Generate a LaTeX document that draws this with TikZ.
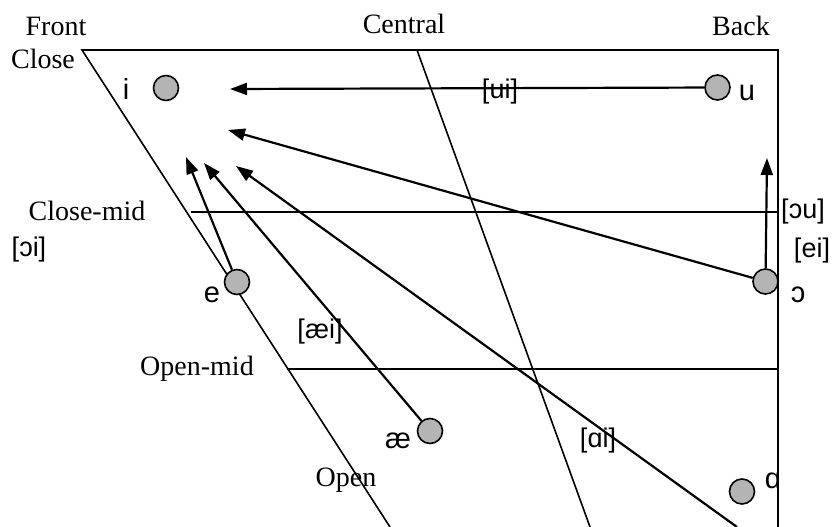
\documentclass[tikz,border=0pt]{standalone}
\usepackage{fontspec}
\setmainfont{Liberation Serif}
\newfontfamily\ipafont{Liberation Sans}
\usetikzlibrary{arrows.meta}
\definecolor{vgray}{RGB}{180,180,180}
\begin{document}
\begin{tikzpicture}[x=1pt,y=-1pt,
  frame/.style={line width=1.6pt},
  arr/.style={line width=2.2pt,-{Triangle[length=17pt,width=12pt]}},
  vc/.style={circle,draw,fill=vgray,line width=1.6pt,minimum size=25pt,inner sep=0pt},
  lbl/.style={font=\fontsize{28}{30}\selectfont,inner sep=0pt},
  sym/.style={font=\ipafont\fontsize{29}{31}\selectfont,inner sep=0pt},
  brk/.style={font=\ipafont\fontsize{27}{29}\selectfont,inner sep=0pt}]
\useasboundingbox (0,0) rectangle (833,527);
% frame
\coordinate (tl) at (82,50);
\coordinate (tr) at (778,50);
\coordinate (br) at (778,527);
\coordinate (bl) at (390,527);
\coordinate (ct) at (417,50);
\coordinate (cb) at (590,527);
\coordinate (cm1) at (191,212);
\coordinate (cm2) at (778,212);
\coordinate (om1) at (287,369);
\coordinate (om2) at (778,369);
\draw[frame] (bl) -- (tl) -- (tr) -- (br);
\draw[frame] (ct) -- (cb);
\draw[frame] (cm1) -- (cm2);
\draw[frame] (om1) -- (om2);
% labels
\node[lbl] (front) at (56,26) {Front};
\node[lbl] (close) at (43,59) {Close};
\node[lbl] (central) at (404,24) {Central};
\node[lbl] (back) at (741,26) {Back};
\node[lbl] (closemid) at (87,211) {Close-mid};
\node[lbl] (openmid) at (197,369) {Open-mid};
\node[lbl] (open) at (346,480) {Open};
% vowels
\node[vc] (vi) at (166,88) {};
\node[vc] (vu) at (717.5,87.5) {};
\node[vc] (ve) at (237,282) {};
\node[vc] (vo) at (765.5,281.5) {};
\node[vc] (vae) at (430,431) {};
\node[vc] (va) at (742,491.5) {};
\node[sym] (li) at (126,89) {i};
\node[sym] (lu) at (747,92.5) {u};
\node[sym] (le) at (212,295) {e};
\node[sym] (lo) at (798,295) {ɔ};
\node[sym] (lae) at (398,441) {æ};
\node[sym] (la) at (773,481) {ɑ};
% diphthong labels
\node[brk] (bui) at (500,92) {[ui]};
\node[brk] (boi) at (29,250) {[ɔi]};
\node[brk] (bou) at (803,212) {[ɔu]};
\node[brk] (bei) at (812,251) {[ei]};
\node[brk] (baei) at (320,332) {[æi]};
\node[brk] (bai) at (598,441) {[ɑi]};
% arrows
\coordinate (tui) at (230,89);
\coordinate (toi) at (228,130);
\coordinate (tou) at (767,158);
\coordinate (tei) at (186,157);
\coordinate (taei) at (204,163);
\coordinate (tai) at (236,166);
\coordinate (sai) at (737,527);
\draw[arr] (vu) -- (tui);
\draw[arr] (vo) -- (toi);
\draw[arr] (vo) -- (tou);
\draw[arr] (ve) -- (tei);
\draw[arr] (vae) -- (taei);
\draw[arr] (sai) -- (tai);
\end{tikzpicture}
\end{document}
